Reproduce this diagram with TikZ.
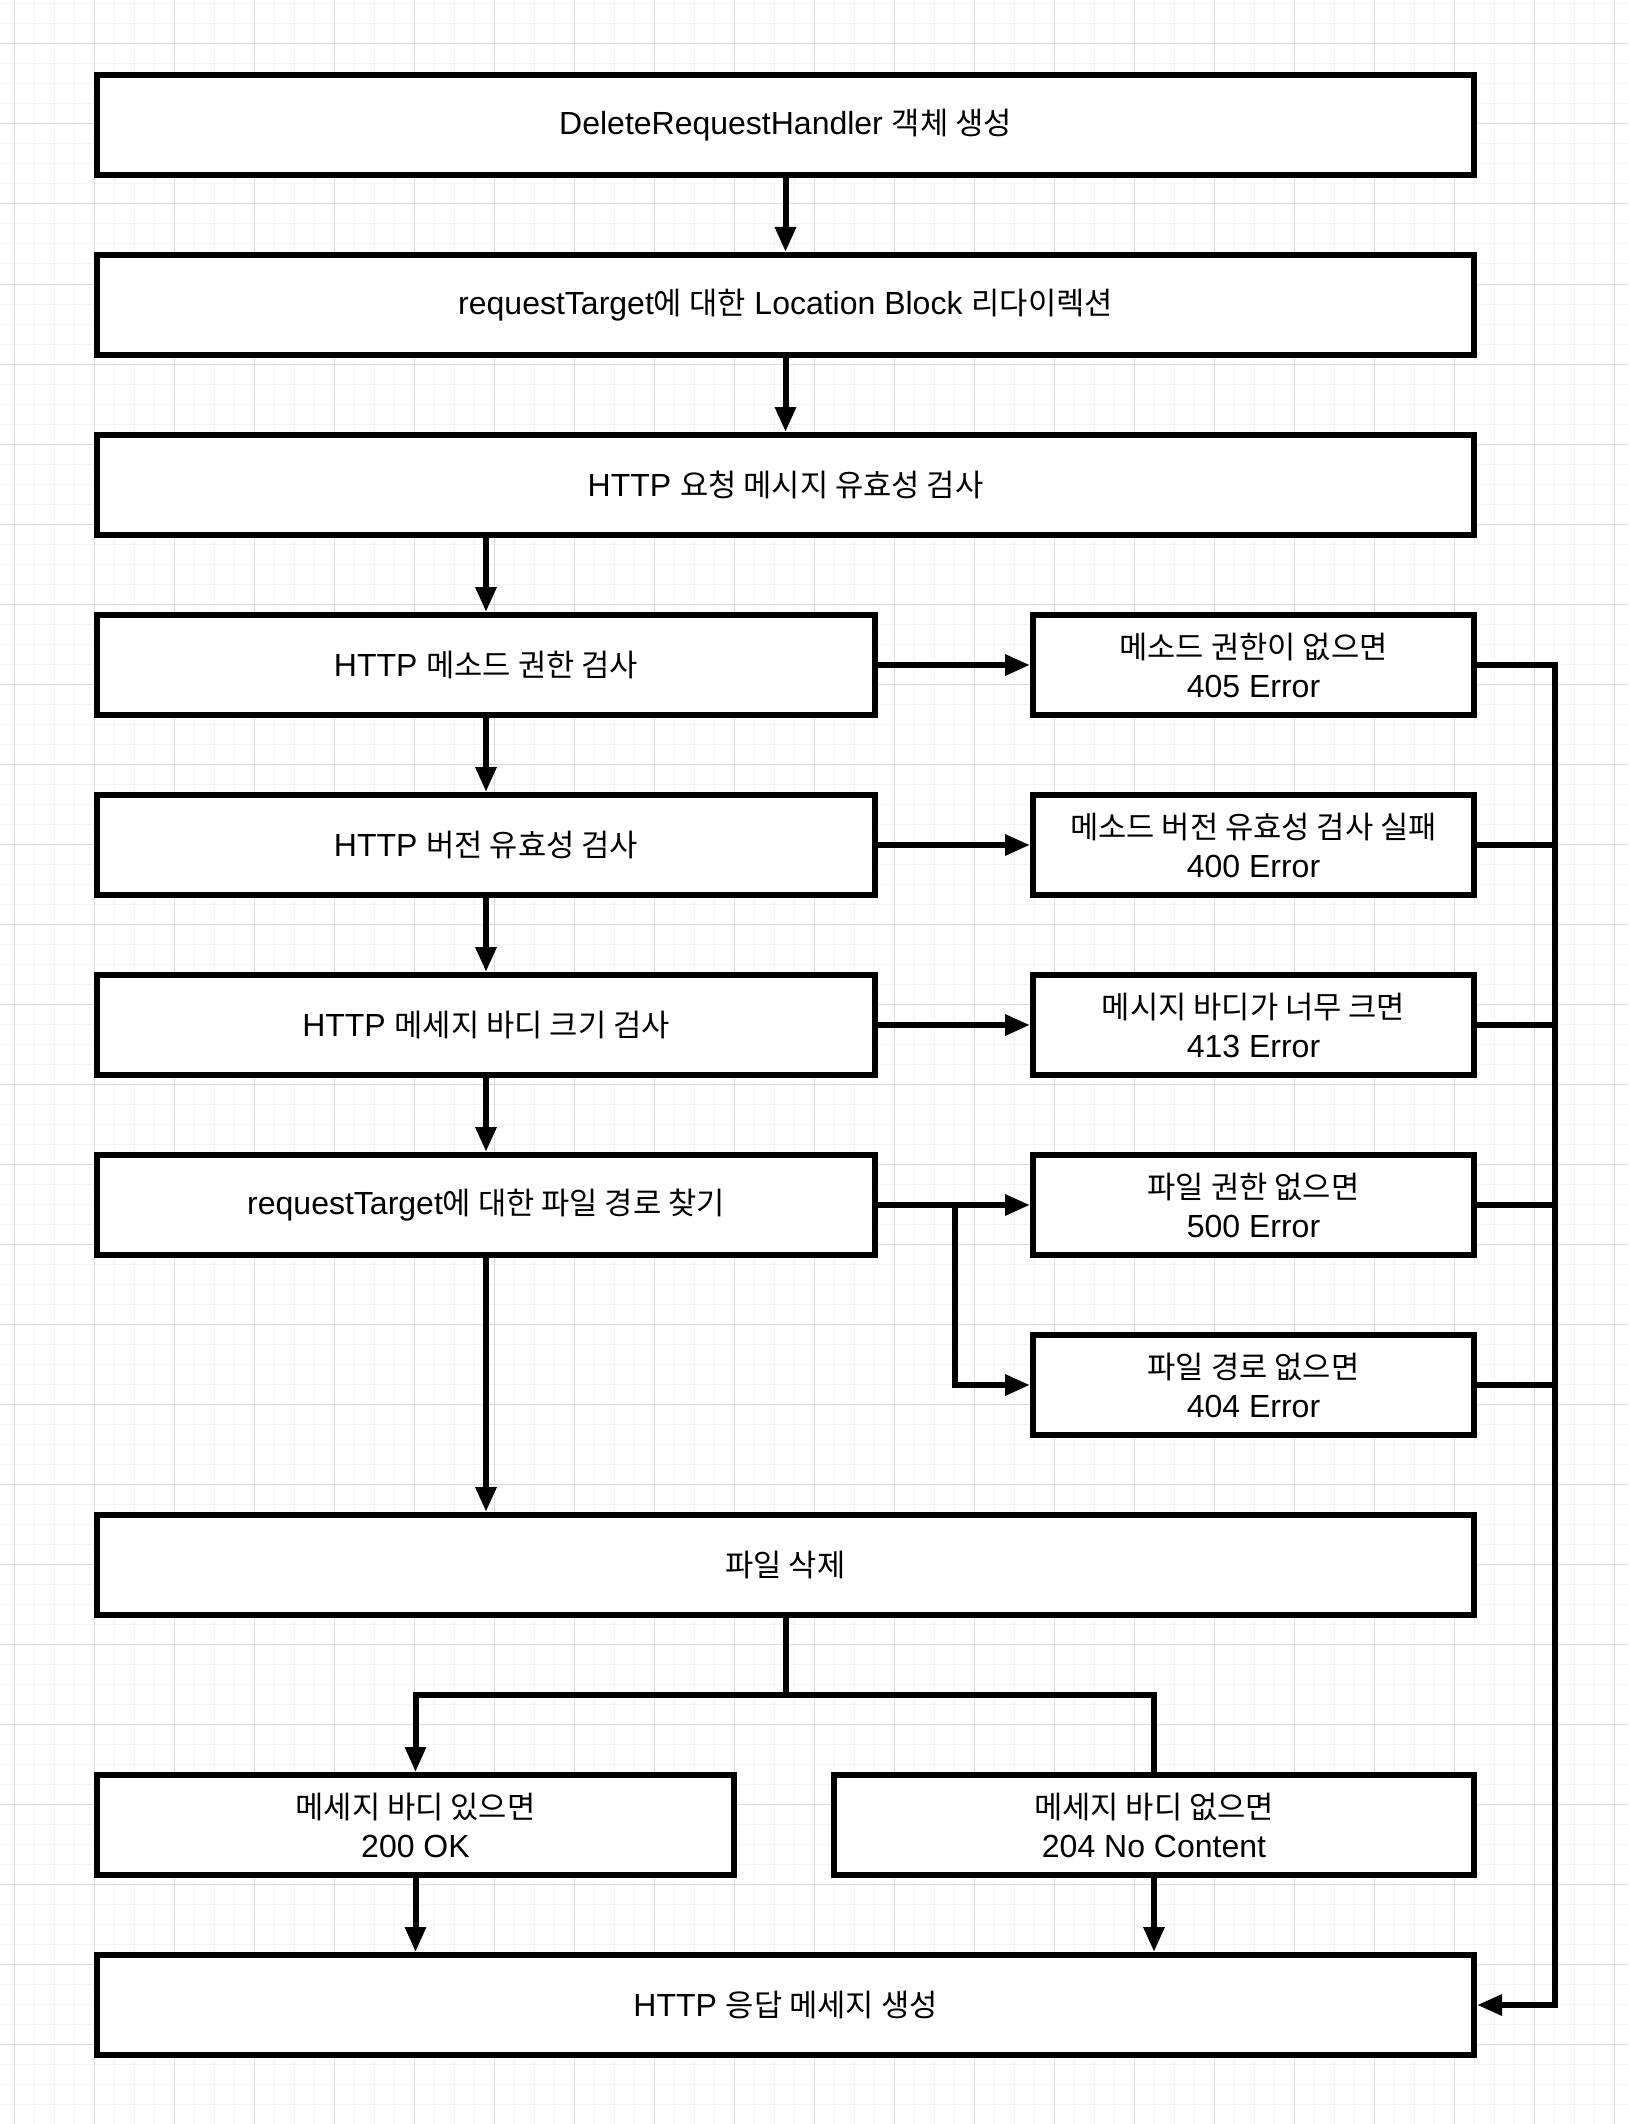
\documentclass[tikz,border=0pt]{standalone}
\usepackage{fontspec}
\setmainfont{Liberation Sans}
\newfontfamily\kfont[Scale=0.96]{Noto Sans CJK KR}
\newcommand\kor[1]{{\kfont #1}}
\usetikzlibrary{arrows.meta}
\definecolor{gridminor}{HTML}{F3F3F3}
\definecolor{gridmajor}{HTML}{DADADA}
\tikzset{
  box/.style={draw=black, line width=3pt, fill=white, rectangle, inner sep=0pt,
    minimum height=50pt, align=center, font=\fontsize{16}{19.5}\selectfont},
  wide/.style={box, minimum width=688.5pt},
  leftcol/.style={box, minimum width=389pt},
  rightcol/.style={box, minimum width=220.5pt},
  halfl/.style={box, minimum width=318.5pt},
  halfr/.style={box, minimum width=320pt},
  conn/.style={line width=3pt, line join=miter},
  arr/.style={conn, -{Triangle[length=12.5pt,width=10pt]}},
}
\begin{document}
\begin{tikzpicture}[x=0.5pt,y=-0.5pt]
\useasboundingbox (0,0) rectangle (1628,2124);
\fill[white] (0,0) rectangle (1628,2124);
% grid
\foreach \gx in {14,34,...,1628} \draw[gridminor, line width=0.5pt] (\gx,0) -- (\gx,2124);
\foreach \gy in {4,24,...,2124} \draw[gridminor, line width=0.5pt] (0,\gy) -- (1628,\gy);
\foreach \gx in {14,94,...,1628} \draw[gridmajor, line width=0.5pt] (\gx,0) -- (\gx,2124);
\foreach \gy in {44,124,...,2124} \draw[gridmajor, line width=0.5pt] (0,\gy) -- (1628,\gy);

% nodes
\node[wide] (b1) at (785.5,125) {DeleteRequestHandler \kor{객체 생성}};
\node[wide] (b2) at (785.5,305) {requestTarget\kor{에 대한} Location Block \kor{리다이렉션}};
\node[wide] (b3) at (785.5,485) {HTTP \kor{요청 메시지 유효성 검사}};
\node[leftcol] (b4) at (486,665) {HTTP \kor{메소드 권한 검사}};
\node[leftcol] (b5) at (486,845) {HTTP \kor{버전 유효성 검사}};
\node[leftcol] (b6) at (486,1025) {HTTP \kor{메세지 바디 크기 검사}};
\node[leftcol] (b7) at (486,1205) {requestTarget\kor{에 대한 파일 경로 찾기}};
\node[rightcol] (r4) at (1253.5,665) {\kor{메소드 권한이 없으면}\\405 Error};
\node[rightcol] (r5) at (1253.5,845) {\kor{메소드 버전 유효성 검사 실패}\\400 Error};
\node[rightcol] (r6) at (1253.5,1025) {\kor{메시지 바디가 너무 크면}\\413 Error};
\node[rightcol] (r7) at (1253.5,1205) {\kor{파일 권한 없으면}\\500 Error};
\node[rightcol] (r8) at (1253.5,1385) {\kor{파일 경로 없으면}\\404 Error};
\node[wide] (b9) at (785.5,1565) {\kor{파일 삭제}};
\node[halfl] (b10) at (415.5,1825) {\kor{메세지 바디 있으면}\\200 OK};
\node[halfr] (b11) at (1154,1825) {\kor{메세지 바디 없으면}\\204 No Content};
\node[wide] (b12) at (785.5,2005) {HTTP \kor{응답 메세지 생성}};

\coordinate (j7) at (955,1205);
\coordinate (cx) at (1555,665);
\coordinate (split) at (785.5,1695);

% main flow
\draw[arr] (b1.south) -- (b2.north);
\draw[arr] (b2.south) -- (b3.north);
\draw[arr] (b4.north |- b3.south) -- (b4.north);
\draw[arr] (b4.south) -- (b5.north);
\draw[arr] (b5.south) -- (b6.north);
\draw[arr] (b6.south) -- (b7.north);
\draw[arr] (b7.south) -- (b7.south |- b9.north);

% error branches
\draw[arr] (b4.east) -- (r4.west);
\draw[arr] (b5.east) -- (r5.west);
\draw[arr] (b6.east) -- (r6.west);
\draw[arr] (b7.east) -- (r7.west);
\draw[arr] (j7) |- (r8.west);

% collector
\draw[conn] (r5.east) -- (r5.east -| cx);
\draw[conn] (r6.east) -- (r6.east -| cx);
\draw[conn] (r7.east) -- (r7.east -| cx);
\draw[conn] (r8.east) -- (r8.east -| cx);
\draw[arr] (r4.east) -- (r4.east -| cx) -- (cx |- b12.east) -- (b12.east);

% delete results
\draw[conn] (b9.south) -- (split);
\draw[arr] (split) -| (b10.north);
\draw[conn] (split) -| (b11.north);
\draw[arr] (b10.south) -- (b10.south |- b12.north);
\draw[arr] (b11.south) -- (b11.south |- b12.north);
\end{tikzpicture}
\end{document}
